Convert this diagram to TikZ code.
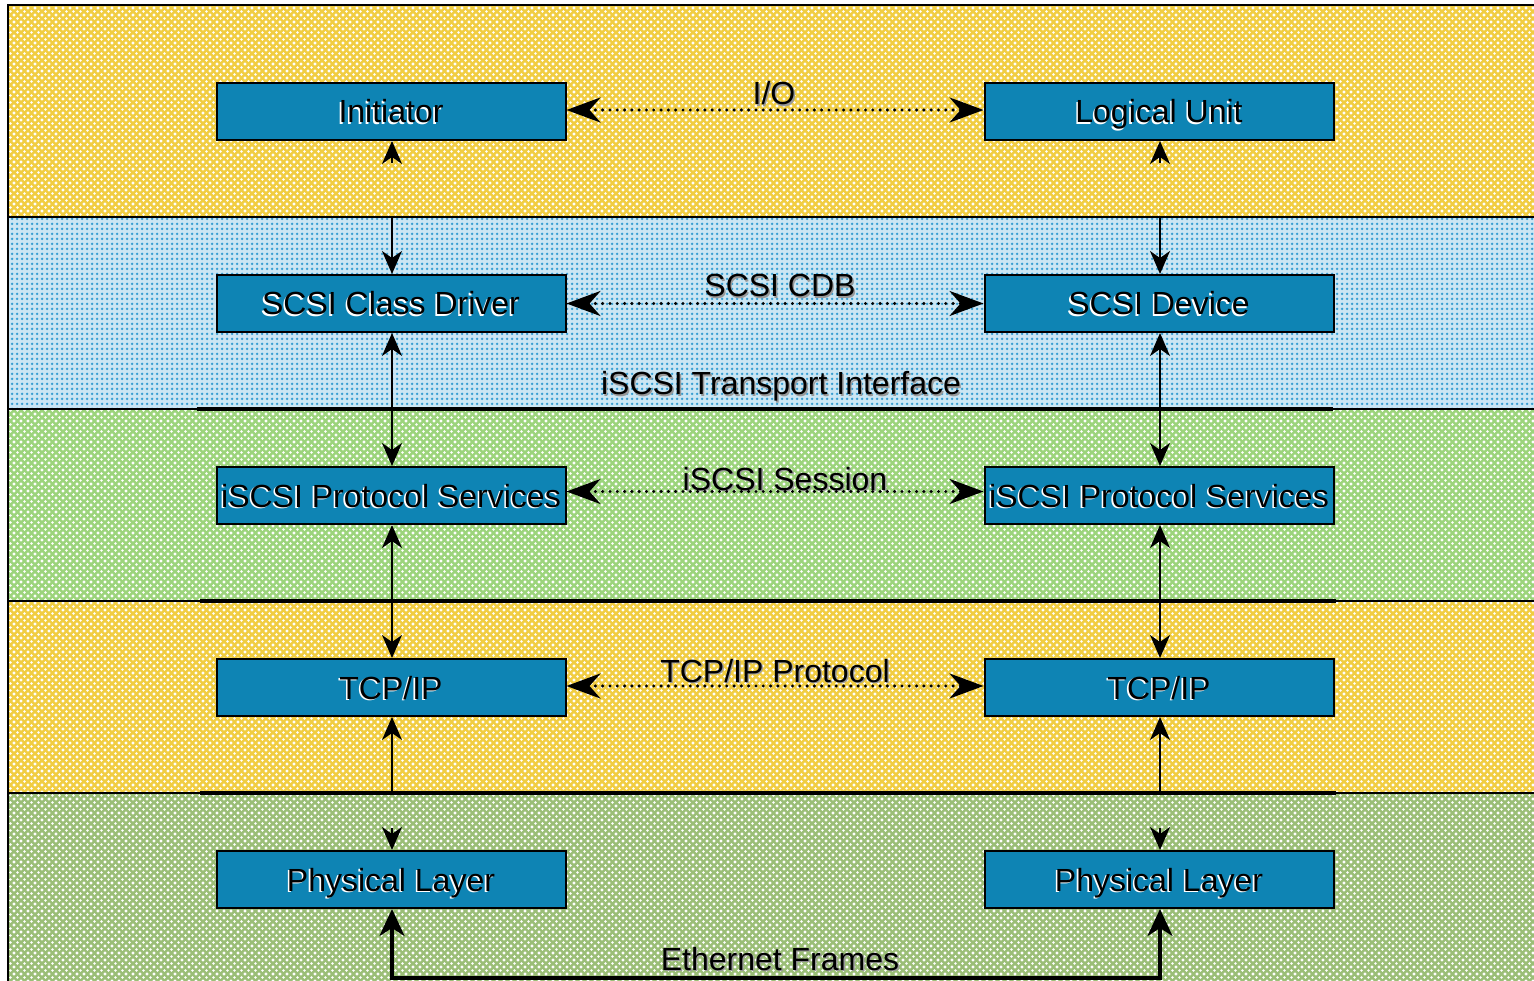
\documentclass[tikz,border=0pt]{standalone}
\usepackage{fontspec}
\setmainfont{Liberation Sans}
\usetikzlibrary{arrows.meta,patterns,calc}

\definecolor{bandyellow}{HTML}{F1CD42}
\definecolor{bandgreen}{HTML}{9CD47C}
\definecolor{bandolive}{HTML}{9BBE77}
\definecolor{bandpale}{HTML}{CBE6F3}
\definecolor{banddot}{HTML}{3A9FD2}
\definecolor{boxblue}{HTML}{0E84B4}

% diagonal lattice of light dots for the textured bands
\pgfdeclarepatternformonly{lattice}{\pgfqpoint{-2pt}{-2pt}}{\pgfqpoint{9pt}{9pt}}{\pgfqpoint{7pt}{7pt}}{%
  \pgfpathcircle{\pgfqpoint{0pt}{0pt}}{1.4pt}%
  \pgfpathcircle{\pgfqpoint{3.5pt}{3.5pt}}{1.4pt}%
  \pgfpathcircle{\pgfqpoint{7pt}{7pt}}{1.4pt}%
  \pgfpathcircle{\pgfqpoint{7pt}{0pt}}{1.4pt}%
  \pgfpathcircle{\pgfqpoint{0pt}{7pt}}{1.4pt}%
  \pgfusepath{fill}}
% square grid of small dots for the transport band
\pgfdeclarepatternformonly{dotgrid}{\pgfqpoint{0pt}{0pt}}{\pgfqpoint{5pt}{5pt}}{\pgfqpoint{5pt}{5pt}}{%
  \pgfpathcircle{\pgfqpoint{2.5pt}{2.5pt}}{1.6pt}%
  \pgfusepath{fill}}

% box caption: dark glyphs over a light offset copy
\newcommand{\boxcap}[1]{\leavevmode\rlap{\kern-1.6pt\raisebox{-1.6pt}{\color{white}#1}}#1}
% band caption: dark glyphs over a grey offset copy
\newcommand{\bandcap}[1]{\leavevmode\rlap{\kern1.4pt\raisebox{-1.4pt}{\color{black!40}#1}}#1}

\tikzset{
  yband/.style={fill=bandyellow, postaction={pattern=lattice, pattern color=white}},
  gband/.style={fill=bandgreen, postaction={pattern=lattice, pattern color=white}},
  oband/.style={fill=bandolive, postaction={pattern=lattice, pattern color=white}},
  bband/.style={fill=bandpale, postaction={pattern=dotgrid, pattern color=banddot}},
  edge/.style={draw=black, line width=1.5pt},
  divider/.style={draw=black, line width=3.2pt},
  layerbox/.style={draw=black, line width=2pt, fill=boxblue, minimum width=349pt,
    minimum height=57pt, inner sep=0pt, text height=23pt, text depth=0pt,
    font=\fontsize{32}{38}\selectfont},
  lbl/.style={inner sep=0pt, anchor=base, font=\fontsize{32}{38}\selectfont},
  peer/.style={line width=3.4pt, line cap=round, dash pattern=on 0pt off 7.3pt,
    {Stealth[length=34pt,width=25pt,inset=11pt]}-{Stealth[length=34pt,width=25pt,inset=11pt]}},
  vlink/.style={line width=1.6pt, -{Stealth[length=23pt,width=20pt,inset=7pt]}},
  vboth/.style={line width=1.6pt, {Stealth[length=23pt,width=20pt,inset=7pt]}-{Stealth[length=23pt,width=20pt,inset=7pt]}},
  eth/.style={line width=3.5pt, miter limit=10,
    {Stealth[length=27pt,width=25pt,inset=8pt]}-{Stealth[length=27pt,width=25pt,inset=8pt]}}
}

\begin{document}
\begin{tikzpicture}[x=1pt, y=-1pt]
\useasboundingbox (0,0) rectangle (1534,981);
\clip (0,0) rectangle (1534,981);
\fill[white] (0,0) rectangle (1534,981);

% layer bands
\path[yband] (8,5) rectangle (1545,217);
\path[bband] (8,217) rectangle (1545,409);
\path[gband] (8,409) rectangle (1545,601);
\path[yband] (8,601) rectangle (1545,793);
\path[oband] (8,793) rectangle (1545,990);

% band outlines
\draw[edge] (8,990) -- (8,5) -- (1545,5);
\foreach \y in {217,409,601,793} \draw[edge] (8,\y) -- (1545,\y);
\draw[divider] (197,409) -- (1333,409);
\draw[divider] (200,601) -- (1336,601);
\draw[divider] (200,793) -- (1336,793);

% protocol stack boxes
\node[layerbox] (init) at (391,111.5) {\boxcap{Initiator}};
\node[layerbox] (lu)   at (1159,111.5) {\boxcap{Logical Unit}};
\node[layerbox] (scd)  at (391,303.5) {\boxcap{SCSI Class Driver}};
\node[layerbox] (sdev) at (1159,303.5) {\boxcap{SCSI Device}};
\node[layerbox] (ipsl) at (391,495.5) {\boxcap{iSCSI Protocol Services}};
\node[layerbox] (ipsr) at (1159,495.5) {\boxcap{iSCSI Protocol Services}};
\node[layerbox] (tcpl) at (391,687.5) {\boxcap{TCP/IP}};
\node[layerbox] (tcpr) at (1159,687.5) {\boxcap{TCP/IP}};
\node[layerbox] (phyl) at (391,879.5) {\boxcap{Physical Layer}};
\node[layerbox] (phyr) at (1159,879.5) {\boxcap{Physical Layer}};

% band captions
\node[lbl] (io)    at (774,105) {\bandcap{I/O}};
\node[lbl] (cdb)   at (780,297) {\bandcap{SCSI CDB}};
\node[lbl] (tif)   at (781,395) {\bandcap{iSCSI Transport Interface}};
\node[lbl] (sess)  at (785,490) {\bandcap{iSCSI Session}};
\node[lbl] (tcpp)  at (775,682) {\bandcap{TCP/IP Protocol}};
\node[lbl] (ether) at (780,970) {\bandcap{Ethernet Frames}};

% peer-to-peer exchanges
\draw[peer] ($(init.east)+(0,-1.5)$) -- ($(lu.west)+(0,-1.5)$);
\draw[peer] (scd.east) -- (sdev.west);
\draw[peer] ($(ipsl.east)+(0,-4)$) -- ($(ipsr.west)+(0,-4)$);
\draw[peer] ($(tcpl.east)+(0,-1.5)$) -- ($(tcpr.west)+(0,-1.5)$);

% free ends of the vertical links
\coordinate (iniTip)  at (392,163);
\coordinate (luTip)   at (1160,163);
\coordinate (topL)    at (392,217);
\coordinate (topR)    at (1160,217);
\coordinate (botL)    at (392,793);
\coordinate (botR)    at (1160,793);
\coordinate (phyTipL) at (392,828);
\coordinate (phyTipR) at (1160,828);
\coordinate (wireL)   at (392,978);
\coordinate (wireR)   at (1160,978);

% vertical links, left stack
\draw[vlink] (iniTip) -- (iniTip |- init.south);
\draw[vlink] (topL) -- (topL |- scd.north);
\draw[vboth] (topL |- scd.south) -- (topL |- ipsl.north);
\draw[vboth] (topL |- ipsl.south) -- (topL |- tcpl.north);
\draw[vlink] (botL) -- (botL |- tcpl.south);
\draw[vlink] (phyTipL) -- (phyTipL |- phyl.north);

% vertical links, right stack
\draw[vlink] (luTip) -- (luTip |- lu.south);
\draw[vlink] (topR) -- (topR |- sdev.north);
\draw[vboth] (topR |- sdev.south) -- (topR |- ipsr.north);
\draw[vboth] (topR |- ipsr.south) -- (topR |- tcpr.north);
\draw[vlink] (botR) -- (botR |- tcpr.south);
\draw[vlink] (phyTipR) -- (phyTipR |- phyr.north);

% physical wire
\draw[eth] (wireL |- phyl.south) -- (wireL) -- (wireR) -- (wireR |- phyr.south);
\end{tikzpicture}
\end{document}
